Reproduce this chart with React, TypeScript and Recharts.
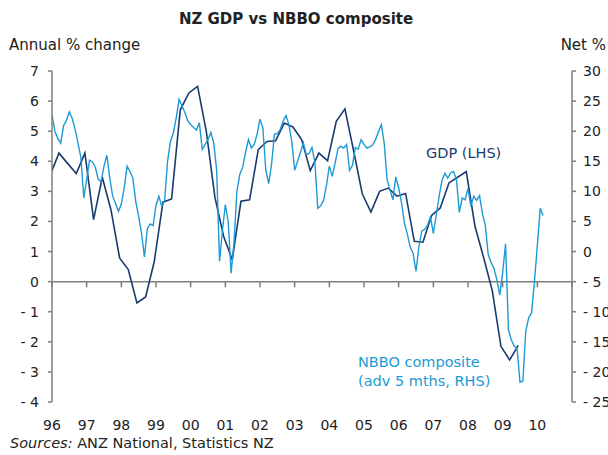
import React from 'react';
import { LineChart, Line, XAxis, YAxis, ReferenceLine } from 'recharts';

// GDP annual % change, quarterly, starting 1996 Q1 (LHS)
const gdpValues = [
  3.55, 4.27, 3.93, 3.59, 4.27, 2.06, 3.47, 2.39, 0.79, 0.4, -0.71, -0.51, 0.67, 2.64, 2.75,
  5.71, 6.27, 6.49, 5.0, 2.8, 1.51, 0.73, 2.67, 2.72, 4.39, 4.66, 4.68, 5.27, 5.14, 4.72,
  3.69, 4.27, 4.02, 5.33, 5.74, 4.35, 2.92, 2.31, 3.0, 3.11, 2.84, 2.93, 1.34, 1.31, 2.2,
  2.45, 3.28, 3.47, 3.66, 1.85, 0.8, -0.3, -2.15, -2.6, -2.12,
];
const gdpStart = 1995.95;

// NBBO composite, net %, monthly from Jan 1996 (adv 5 months, RHS)
const nbboValues = [
  22.7, 20.0, 18.8, 18.0, 20.9, 21.8, 23.2, 22.1, 20.3, 18.0, 15.6, 8.9,
  12.0, 15.2, 14.9, 14.0, 12.0, 11.6, 14.2, 16.0, 12.2, 9.2, 8.0, 6.7,
  7.9, 10.6, 14.2, 13.3, 12.2, 8.3, 5.8, 3.0, -0.9, 3.8, 4.6, 4.3,
  7.7, 9.2, 7.5, 8.5, 15.0, 18.3, 19.7, 22.2, 25.3, 24.2, 23.1, 21.7,
  21.1, 20.6, 20.2, 21.4, 17.0, 17.8, 18.6, 19.8, 18.0, 13.5, -1.6, 3.5,
  7.8, 5.0, -3.6, 1.5, 10.0, 12.8, 14.0, 16.5, 18.6, 17.2, 17.8, 19.5,
  22.0, 20.5, 13.6, 11.3, 14.5, 19.5, 19.6, 20.3, 21.7, 22.6, 21.1, 18.3,
  13.5, 15.0, 16.5, 18.1, 16.1, 16.3, 17.3, 14.8, 7.2, 7.6, 8.5, 11.0,
  14.2, 12.5, 14.7, 17.1, 17.5, 17.2, 17.8, 13.5, 14.3, 17.3, 17.0, 18.6,
  17.8, 17.2, 17.4, 17.7, 18.6, 19.9, 21.1, 18.0, 11.9, 10.2, 8.6, 12.4,
  10.6, 8.1, 4.7, 2.9, 0.7, -0.3, -3.3, 0.8, 3.4, 3.7, 4.4, 5.8,
  3.0, 6.0, 9.2, 11.8, 13.0, 12.2, 13.1, 13.3, 12.0, 6.5, 8.9, 8.6,
  10.5, 7.5, 9.2, 8.5, 9.3, 6.3, 4.3, -0.5, -1.8, -2.8, -4.7, -7.2,
  -3.5, 1.3, -13.0, -14.7, -15.7, -16.2, -21.7, -21.5, -13.2, -11.0, -10.2, -5.0,
  1.0, 7.2, 6.0,
];
const nbboStart = 1996;

const yearTicks = [1996, 1997, 1998, 1999, 2000, 2001, 2002, 2003, 2004, 2005, 2006, 2007, 2008, 2009, 2010];
const yearTickMarks = [...yearTicks, 2011];
const leftTicks = [-4, -3, -2, -1, 0, 1, 2, 3, 4, 5, 6, 7];
const rightTicks = [-25, -20, -15, -10, -5, 0, 5, 10, 15, 20, 25, 30];

const gdpData = gdpValues.map((v, i) => ({ t: gdpStart + i * 0.25, gdp: v }));
const nbboData = nbboValues.map((v, i) => ({ t: nbboStart + i / 12, nbbo: v }));

const DARK = '#1b3b6f';
const LIGHT = '#1d9ad6';
const AXIS = '#7f7f7f';
const FONT = '"DejaVu Sans", Verdana, sans-serif';

const fmtNum = (v: number) => (v < 0 ? `- ${Math.abs(v)}` : `${v}`);
const fmtYear = (v: number) => String(v % 100).padStart(2, '0');

export default function App() {
  const tickStyle = { fontSize: 14, fill: '#222', fontFamily: FONT };
  return (
    <div style={{ position: 'absolute', left: 0, top: 0, width: 608, height: 455, background: '#fff', fontFamily: FONT, color: '#222' }}>
      <LineChart
        width={608}
        height={455}
        margin={{ top: 71, right: 0, bottom: 0, left: 0 }}
      >
        <XAxis
          type="number"
          dataKey="t"
          domain={[1996, 2011]}
          allowDataOverflow
          ticks={yearTicks}
          tickFormatter={fmtYear}
          axisLine={false}
          tickLine={false}
          tickSize={0}
          tickMargin={18}
          height={53}
          tick={tickStyle}
          interval={0}
        />
        <YAxis
          yAxisId="left"
          domain={[-4, 7]}
          ticks={leftTicks}
          interval={0}
          width={52}
          tickFormatter={fmtNum}
          tick={tickStyle}
          tickSize={4}
          tickMargin={9}
          axisLine={{ stroke: AXIS, strokeWidth: 1.5 }}
          tickLine={{ stroke: AXIS, strokeWidth: 1.5 }}
        />
        <YAxis
          yAxisId="right"
          orientation="right"
          domain={[-25, 30]}
          ticks={rightTicks}
          interval={0}
          width={36}
          tickFormatter={fmtNum}
          tick={{ ...tickStyle, textAnchor: 'start' }}
          tickSize={4}
          tickMargin={7}
          axisLine={{ stroke: AXIS, strokeWidth: 1.5 }}
          tickLine={{ stroke: AXIS, strokeWidth: 1.5 }}
        />
        <ReferenceLine yAxisId="left" y={0} stroke={AXIS} strokeWidth={1.5} />
        {yearTickMarks.map((yr) => (
          <ReferenceLine
            key={yr}
            yAxisId="left"
            segment={[{ x: yr, y: 0 }, { x: yr, y: -0.19 }]}
            stroke={AXIS}
            strokeWidth={1.5}
          />
        ))}
        <Line
          data={gdpData}
          dataKey="gdp"
          yAxisId="left"
          stroke={DARK}
          strokeWidth={1.6}
          dot={false}
          activeDot={false}
          isAnimationActive={false}
        />
        <Line
          data={nbboData}
          dataKey="nbbo"
          yAxisId="right"
          stroke={LIGHT}
          strokeWidth={1.4}
          dot={false}
          activeDot={false}
          isAnimationActive={false}
        />
      </LineChart>

      <div style={{ position: 'absolute', left: 0, width: 592, top: 10, textAlign: 'center', fontWeight: 'bold', fontSize: 15, lineHeight: '18px' }}>
        NZ GDP vs NBBO composite
      </div>
      <div style={{ position: 'absolute', left: 9, top: 36, fontSize: 15, lineHeight: '18px' }}>Annual % change</div>
      <div style={{ position: 'absolute', right: 2, top: 36, fontSize: 15, lineHeight: '18px' }}>Net %</div>
      <div style={{ position: 'absolute', left: 426, top: 144, fontSize: 14.5, lineHeight: '18px', color: DARK }}>GDP (LHS)</div>
      <div style={{ position: 'absolute', left: 358, top: 353, fontSize: 14.5, lineHeight: '19px', color: LIGHT }}>
        NBBO composite
        <br />
        (adv 5 mths, RHS)
      </div>
      <div style={{ position: 'absolute', left: 10, top: 434, fontSize: 14.5, lineHeight: '18px' }}>
        <i>Sources:</i> ANZ National, Statistics NZ
      </div>
    </div>
  );
}
